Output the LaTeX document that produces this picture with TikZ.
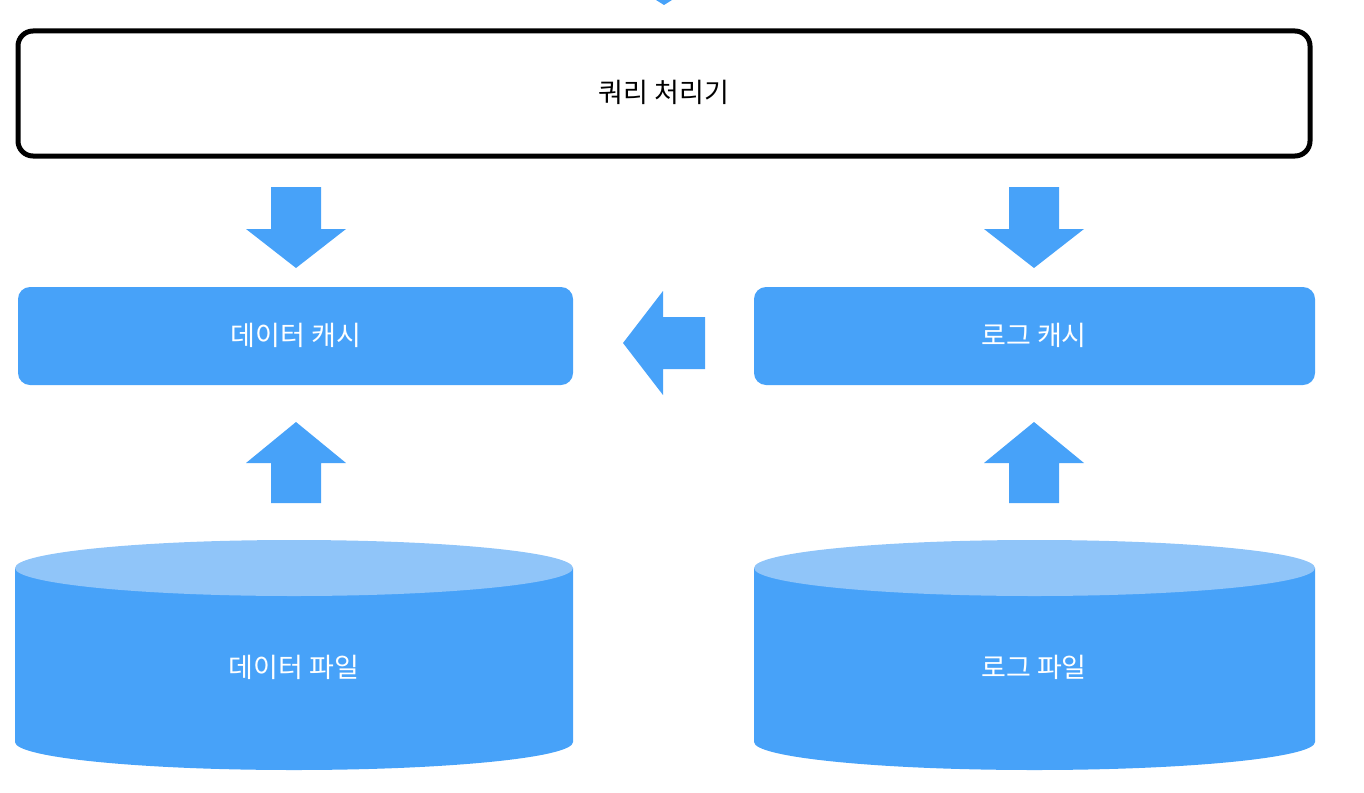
\documentclass[tikz,border=0pt]{standalone}
\usepackage{fontspec}
\newfontfamily\kr{Noto Sans CJK KR}
\definecolor{cblue}{HTML}{47A2F9}
\definecolor{clight}{HTML}{90C5F9}
\begin{document}
\begin{tikzpicture}[x=1pt,y=-1pt,
  lbl/.style={font=\kr\fontsize{27}{31}\selectfont}]
\useasboundingbox (0,0) rectangle (1364,792);
% top partial arrow
\fill[cblue] (656,0) -- (672,0) -- (664,5) -- cycle;
% query processor
\draw[line width=5pt,rounded corners=15pt] (18,31) rectangle (1310,156);
\node[lbl,text=black] (qp) at (664,92) {쿼리 처리기};
% caches
\fill[cblue,rounded corners=12pt] (18,287) rectangle (573,385);
\node[lbl,text=white] (dc) at (296,335) {데이터 캐시};
\fill[cblue,rounded corners=12pt] (754,287) rectangle (1315,385);
\node[lbl,text=white] (lc) at (1034,335) {로그 캐시};
% down / up arrows
\foreach \cx in {296,1034}{
  \fill[cblue] (\cx-25,187) -- (\cx+25,187) -- (\cx+25,229) -- (\cx+50,229) -- (\cx,268) -- (\cx-50,229) -- (\cx-25,229) -- cycle;
  \fill[cblue] (\cx-25,503) -- (\cx+25,503) -- (\cx+25,463) -- (\cx+50,463) -- (\cx,422) -- (\cx-50,463) -- (\cx-25,463) -- cycle;
}
% left arrow
\fill[cblue] (705,317) -- (663,317) -- (663,291) -- (623,343) -- (663,395) -- (663,369) -- (705,369) -- cycle;
% cylinders
\foreach \xa/\xb in {15/573,754/1315}{
  \fill[cblue] (\xa,568) -- (\xa,742) arc[start angle=180,end angle=0,x radius={(\xb-\xa)/2},y radius=28] -- (\xb,568) -- cycle;
  \fill[clight] ({(\xa+\xb)/2},568) ellipse[x radius={(\xb-\xa)/2},y radius=28];
}
\node[lbl,text=white] (df) at (294,667) {데이터 파일};
\node[lbl,text=white] (lf) at (1034,667) {로그 파일};
\end{tikzpicture}
\end{document}
